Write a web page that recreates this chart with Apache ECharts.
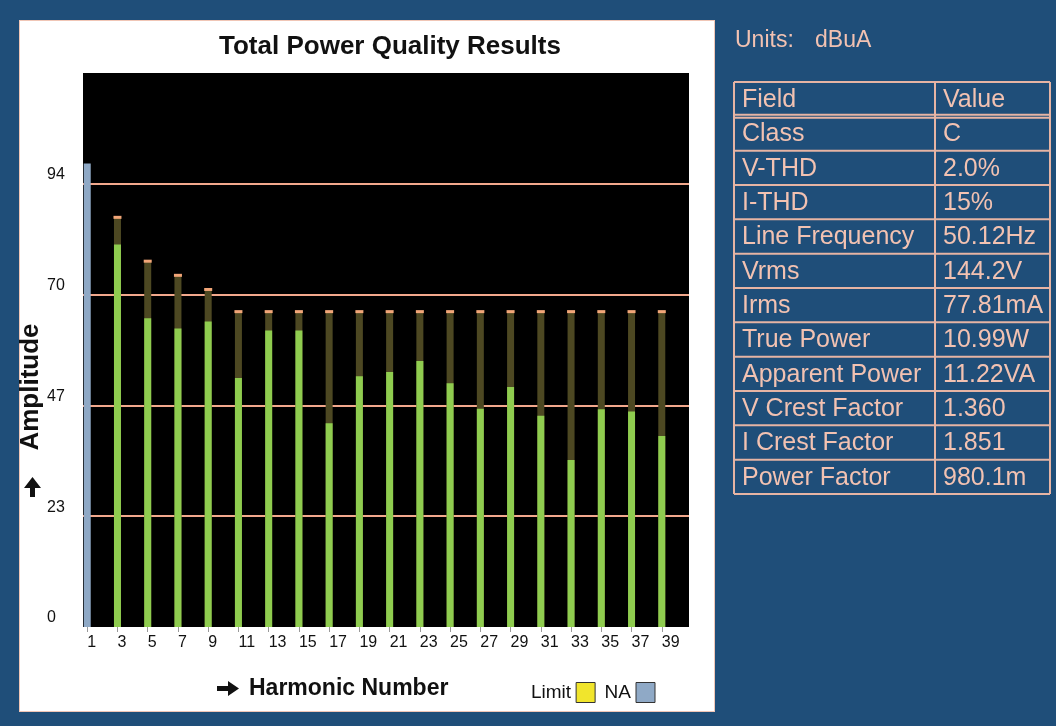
<!DOCTYPE html>
<html><head><meta charset="utf-8">
<script src="https://cdn.jsdelivr.net/npm/echarts@6/dist/echarts.min.js"></script>
<style>
html,body{margin:0;padding:0;background:#1f4e79;width:1056px;height:726px;overflow:hidden;}
#panel{position:absolute;left:19px;top:20px;width:694px;height:690px;background:#fff;border:1px solid #f0c6b6;}
#chart{position:absolute;left:0;top:0;width:1056px;height:726px;}
</style></head><body>
<div id="panel"></div><div id="chart"></div>
<script>
// ---- data ----
const harmonics = [1,3,5,7,9,11,13,15,17,19,21,23,25,27,29,31,33,35,37,39];
const limitValues = [null,87.1,77.8,74.8,71.8,67.1,67.1,67.1,67.1,67.1,67.1,67.1,67.1,67.1,67.1,67.1,67.1,67.1,67.1,67.1];
const measuredValues = [null,81.1,65.5,63.3,64.8,52.8,62.9,62.9,43.2,53.2,54.1,56.4,51.7,46.3,50.9,44.8,35.4,46.2,45.7,40.5];
const naValues = [98.3,null,null,null,null,null,null,null,null,null,null,null,null,null,null,null,null,null,null,null];
const yMax = 117.5;
const yStep = 23.5;
const tableFields = ['Field','Class','V-THD','I-THD','Line Frequency','Vrms','Irms','True Power','Apparent Power','V Crest Factor','I Crest Factor','Power Factor'];
const tableValues = ['Value','C','2.0%','15%','50.12Hz','144.2V','77.81mA','10.99W','11.22VA','1.360','1.851','980.1m'];
const unitsLabel = 'Units:';
const unitsValue = 'dBuA';
const titleText = 'Total Power Quality Results';
const xName = 'Harmonic Number';
const yName = 'Amplitude';

// ---- chart ----
const FONT = "'Liberation Sans', Arial, sans-serif";
const chart = echarts.init(document.getElementById('chart'));
const pair = arr => harmonics.map((h,i) => [h, arr[i]]);

const pink = '#f2c2b2';
const lineCol = '#e6b4a4';
const graphics = [];
graphics.push({type:'text', x:390, y:47, style:{text:titleText, font:"bold 26px " + FONT, fill:'#111', align:'center', verticalAlign:'middle'}});
graphics.push({type:'text', x:249, y:689, style:{text:xName, font:"bold 23px " + FONT, fill:'#111', align:'left', verticalAlign:'middle'}});
graphics.push({type:'polygon', shape:{points:[[217,686],[228,686],[228,681],[239,688.5],[228,696],[228,691],[217,691]]}, style:{fill:'#111'}});
graphics.push({type:'text', x:31, y:387, rotation:Math.PI/2, style:{text:yName, font:"bold 26px " + FONT, fill:'#111', align:'center', verticalAlign:'middle'}});
graphics.push({type:'polygon', shape:{points:[[30,497],[30,488],[24,488],[32.5,477],[41,488],[35,488],[35,497]]}, style:{fill:'#111'}});
graphics.push({type:'text', x:735, y:41, style:{text:unitsLabel, font:"23px " + FONT, fill:pink, align:'left', verticalAlign:'middle'}});
graphics.push({type:'text', x:815, y:41, style:{text:unitsValue, font:"23px " + FONT, fill:pink, align:'left', verticalAlign:'middle'}});

const tL = 734, tC = 935, tR = 1050, tT = 82, rowH = 34.33;
const nRows = tableFields.length;
for (let i = 0; i <= nRows; i++) {
  const y = tT + i * rowH;
  if (i === 1) {
    graphics.push({type:'line', shape:{x1:tL, y1:y-1.5, x2:tR, y2:y-1.5}, style:{stroke:lineCol, lineWidth:2}});
    graphics.push({type:'line', shape:{x1:tL, y1:y+1.5, x2:tR, y2:y+1.5}, style:{stroke:lineCol, lineWidth:2}});
  } else {
    graphics.push({type:'line', shape:{x1:tL, y1:y, x2:tR, y2:y}, style:{stroke:lineCol, lineWidth:2}});
  }
}
[tL, tC, tR].forEach(x => graphics.push({type:'line', shape:{x1:x, y1:tT, x2:x, y2:tT + nRows*rowH}, style:{stroke:lineCol, lineWidth:2}}));
tableFields.forEach((f,i) => {
  const cy = tT + i*rowH + rowH/2 + 1;
  graphics.push({type:'text', x:tL+8, y:cy, style:{text:f, font:"25px " + FONT, fill:pink, align:'left', verticalAlign:'middle'}});
  graphics.push({type:'text', x:tC+8, y:cy, style:{text:tableValues[i], font:"25px " + FONT, fill:pink, align:'left', verticalAlign:'middle'}});
});

chart.setOption({
  animation: false,
  backgroundColor: 'transparent',
  grid: {left:83, top:73, right:367, bottom:99, show:true, backgroundColor:'#000', borderWidth:0, outerBoundsMode:'none'},
  legend: {
    left:526, top:677, align:'right', itemWidth:19, itemHeight:20, itemGap:9, selectedMode:false,
    textStyle:{fontSize:19, color:'#111', fontFamily:FONT},
    data:[
      {name:'Limit', icon:'rect', itemStyle:{color:'#f1e52c', borderColor:'#333', borderWidth:1}},
      {name:'NA', icon:'rect', itemStyle:{color:'#8fa9c6', borderColor:'#333', borderWidth:1}}
    ]
  },
  xAxis: {
    type:'value', min:0.72, max:40.8,
    axisLine:{show:false}, splitLine:{show:false},
    axisTick:{show:true, customValues:harmonics, length:5, lineStyle:{color:'#999'}},
    axisLabel:{customValues:harmonics, align:'left', margin:8, fontSize:16, color:'#111', fontFamily:FONT}
  },
  yAxis: {
    type:'value', min:0, max:yMax, interval:yStep,
    axisLine:{show:false}, axisTick:{show:false},
    splitLine:{show:true, showMinLine:false, showMaxLine:false, lineStyle:{color:'#f2a88c', width:2}},
    axisLabel:{showMaxLabel:false, formatter:v => String(Math.floor(v)), align:'left', margin:36, verticalAlign:'bottom', lineHeight:18, fontSize:16, color:'#111', fontFamily:FONT}
  },
  graphic: graphics,
  series: [
    {name:'Limit', type:'bar', data:pair(limitValues), barWidth:7, barGap:'-100%', itemStyle:{color:'#4d4822'}, z:2, silent:true},
    {name:'Measured', type:'bar', data:pair(measuredValues), barWidth:7, barGap:'-100%', itemStyle:{color:'#8fcc4f'}, z:3, silent:true},
    {name:'NA', type:'bar', data:pair(naValues), barWidth:7, barGap:'-100%', itemStyle:{color:'#8fa9c6'}, z:3, silent:true},
    {name:'LimitCap', type:'scatter', data:pair(limitValues), symbol:'rect', symbolSize:[8,3], symbolOffset:[0,1], itemStyle:{color:'#f2a678', opacity:1}, z:4, silent:true}
  ]
});
</script>
</body></html>
